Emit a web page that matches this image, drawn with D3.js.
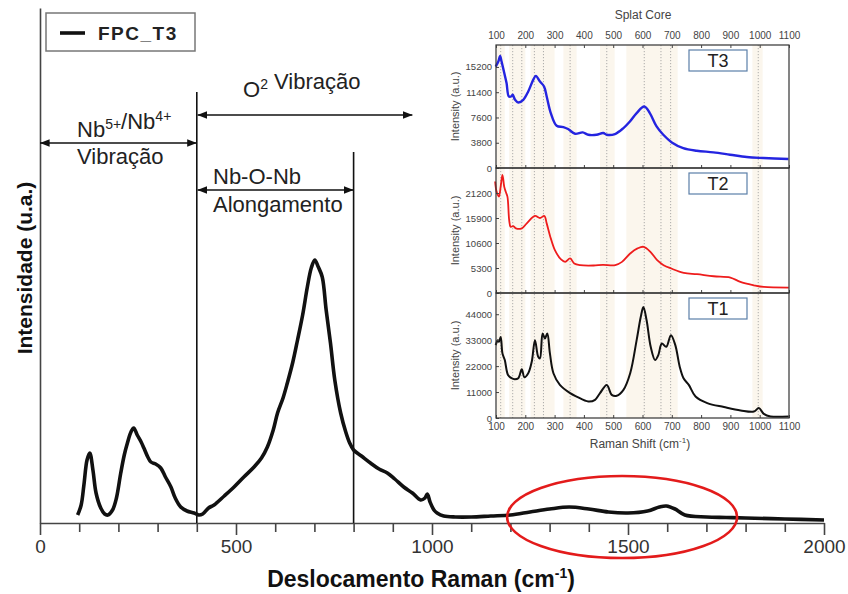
<!DOCTYPE html>
<html>
<head>
<meta charset="UTF-8">
<title>FPC_T3 Raman</title>
<script src="https://cdn.jsdelivr.net/npm/d3@7"></script>
<style>
body { margin: 0; background: #fff; }
text { font-family: "Liberation Sans", Arial, sans-serif; }
</style>
</head>
<body>
<script>
var W = 848, H = 594;

// main spectrum FPC_T3: [raman shift, intensity a.u.]
var mainSpectrum = [
  [96, 8], [105, 18], [112, 38], [120, 63], [127, 70], [135, 53], [143, 30], [155, 15],
  [165, 9], [173, 8], [185, 13], [195, 25], [206, 50], [215, 68], [223, 80], [232, 91],
  [239, 95], [248, 88], [258, 81], [265, 75], [275, 66], [283, 61], [295, 59], [308, 55],
  [320, 46], [334, 36], [345, 25], [359, 16], [375, 12], [393, 10], [405, 8], [415, 9],
  [430, 15], [444, 18], [470, 27], [495, 36], [520, 46], [546, 56], [565, 65], [580, 76],
  [595, 93], [606, 110], [620, 125], [631, 140], [645, 161], [657, 183], [670, 208],
  [682, 236], [692, 255], [701, 263], [710, 256], [720, 246], [730, 213], [741, 180],
  [752, 143], [767, 110], [780, 91], [790, 80], [800, 73], [820, 67], [843, 60],
  [865, 54], [886, 50], [905, 44], [928, 36], [950, 30], [971, 23], [982, 25], [988, 29],
  [995, 21], [1005, 13], [1013, 10], [1030, 7], [1060, 6], [1100, 6], [1150, 7],
  [1200, 8], [1250, 11], [1300, 14], [1350, 16], [1400, 14], [1450, 11], [1500, 10],
  [1550, 12], [1580, 16], [1598, 17], [1620, 14], [1645, 8], [1700, 6], [1750, 5.5],
  [1800, 5], [1900, 4], [2000, 3]
];
var mainTickLabels = [0, 500, 1000, 1500, 2000];

// inset "Splat Core" spectra
var t3Spectrum = [
  [99, 15260], [108, 16010], [114, 16870], [119, 16010], [127, 14510], [136, 12770],
  [144, 10750], [153, 10800], [157, 11010], [165, 10260], [176, 9850], [193, 10260],
  [210, 11510], [227, 13260], [236, 13860], [250, 13010], [264, 12260], [273, 10750],
  [287, 8260], [307, 6350], [330, 6160], [346, 5860], [370, 5150], [396, 5350],
  [415, 5000], [443, 5000], [466, 5260], [478, 5000], [506, 5110], [535, 6010],
  [557, 7000], [580, 8260], [606, 9250], [625, 8260], [648, 6250], [671, 5000],
  [700, 3850], [739, 3000], [785, 2600], [842, 2350], [899, 2000], [956, 1650],
  [1013, 1500], [1098, 1350]
];
var t2Spectrum = [
  [97, 23630], [102, 21500], [110, 20430], [116, 22560], [122, 25050], [128, 22560],
  [133, 21500], [139, 20430], [145, 15470], [150, 14050], [159, 14190], [168, 13700],
  [188, 13700], [205, 14760], [233, 16330], [250, 15900], [265, 16330], [273, 14760],
  [287, 11580], [301, 9090], [322, 7110], [336, 6600], [353, 7320], [367, 6260],
  [387, 5900], [433, 5830], [465, 5970], [507, 5900], [530, 6600], [558, 8380],
  [583, 9450], [604, 9790], [627, 8730], [650, 6960], [672, 5900], [698, 5190],
  [741, 4260], [786, 3980], [843, 3550], [900, 3280], [934, 2340], [980, 1640],
  [1014, 1280], [1099, 1150]
];
var t1Spectrum = [
  [99, 30890], [106, 33000], [110, 32300], [116, 34390], [122, 27390], [130, 24570],
  [141, 18250], [153, 16860], [164, 16440], [176, 16860], [188, 20650], [197, 17280],
  [210, 18960], [222, 23850], [233, 33000], [244, 25960], [250, 25260], [259, 35820],
  [267, 33700], [275, 35820], [284, 27390], [296, 18960], [318, 14040], [353, 10540],
  [375, 9100], [415, 7000], [438, 7700], [455, 10540], [478, 14040], [495, 9820],
  [512, 9400], [535, 11930], [558, 18960], [580, 33000], [594, 42820], [603, 47030],
  [614, 41430], [628, 30180], [643, 24570], [654, 26680], [666, 31610], [681, 30180],
  [697, 35110], [712, 30890], [727, 21760], [740, 16860], [758, 14040], [781, 9100],
  [821, 6320], [878, 4640], [935, 3200], [980, 2720], [997, 4210], [1014, 1760],
  [1037, 670], [1099, 670]
];
var t3Ticks = [0, 3800, 7600, 11400, 15200];
var t2Ticks = [0, 5300, 10600, 15900, 21200];
var t1Ticks = [0, 11000, 22000, 33000, 44000];
var insetTickLabels = [100, 200, 300, 400, 500, 600, 700, 800, 900, 1000, 1100];
var bandRanges = [[102, 130], [145, 200], [218, 300], [330, 375], [455, 505], [545, 720], [975, 1010]];
var peakLines = [116, 157, 188, 231, 262, 353, 478, 606, 663, 696, 995];

var svg = d3.select("body").append("svg")
  .attr("width", W).attr("height", H);
svg.append("rect").attr("width", W).attr("height", H).attr("fill", "#fff");

var defs = svg.append("defs");
defs.append("marker").attr("id", "ah")
  .attr("viewBox", "0 0 10 10").attr("refX", 10).attr("refY", 5)
  .attr("markerWidth", 6).attr("markerHeight", 6)
  .attr("orient", "auto-start-reverse")
  .append("path").attr("d", "M0,1 L10,5 L0,9 Z").attr("fill", "#111");

// ---------- main chart ----------
var x = d3.scaleLinear().domain([0, 2000]).range([40, 824]);
var y = d3.scaleLinear().domain([0, 515]).range([523, 8]);

var xAxis = d3.axisBottom(x)
  .tickValues(d3.range(0, 2001, 100))
  .tickSizeOuter(0)
  .tickPadding(6)
  .tickFormat(function(d){ return mainTickLabels.includes(d) ? d : ""; });
var gx = svg.append("g").attr("transform", "translate(0," + y(0) + ")").call(xAxis);
gx.select(".domain").attr("stroke", "#444").attr("stroke-width", 1.6);
gx.selectAll(".tick line")
  .attr("stroke", "#444").attr("stroke-width", 1.6)
  .attr("y2", function(d){ return d % 500 == 0 ? 12 : 9; });
gx.selectAll(".tick text")
  .attr("y", 17)
  .attr("font-size", 19).attr("fill", "#333")
  .attr("font-family", "'Liberation Sans', Arial, sans-serif");

var yAxis = d3.axisLeft(y).tickValues([]).tickSizeOuter(0);
var gy = svg.append("g").attr("transform", "translate(" + x(0) + ",0)").call(yAxis);
gy.select(".domain").attr("stroke", "#444").attr("stroke-width", 1.6);

// region lines
svg.append("line").attr("x1", x(400)).attr("x2", x(400))
  .attr("y1", 92).attr("y2", y(0)).attr("stroke", "#111").attr("stroke-width", 1.6);
svg.append("line").attr("x1", x(800)).attr("x2", x(800))
  .attr("y1", 152).attr("y2", y(0)).attr("stroke", "#111").attr("stroke-width", 1.6);

var line = d3.line()
  .x(function(d){ return x(d[0]); })
  .y(function(d){ return y(d[1]); })
  .curve(d3.curveCatmullRom.alpha(0.5));

svg.append("path").datum(mainSpectrum)
  .attr("d", line)
  .attr("fill", "none").attr("stroke", "#111")
  .attr("stroke-width", 3.6).attr("stroke-linejoin", "round");

// arrows
function arrow(xa, xb, yy){
  svg.append("line").attr("x1", x(xa)).attr("x2", x(xb))
    .attr("y1", yy).attr("y2", yy)
    .attr("stroke", "#111").attr("stroke-width", 1.6)
    .attr("marker-start", "url(#ah)").attr("marker-end", "url(#ah)");
}
arrow(0, 400, 143);
arrow(402, 950, 115);
arrow(402, 800, 190);

// parts: plain strings, or ["sup", text] for superscripts
function label(tx, ty, parts){
  var t = svg.append("text").attr("x", tx).attr("y", ty)
    .attr("font-size", 22).attr("fill", "#222");
  parts.forEach(function(p){
    if (typeof p !== "string") {
      t.append("tspan").attr("dy", -8).attr("font-size", 14).text(p[1]);
      t.append("tspan").attr("dy", 8).text("");
    } else {
      t.append("tspan").text(p);
    }
  });
  return t;
}
label(77, 137, ["Nb", ["sup", "5+"], "/Nb", ["sup", "4+"]]);
label(77, 164, ["Vibração"]);
label(243, 97, ["O", ["sup", "2"], " Vibração"]);
label(213, 184, ["Nb-O-Nb"]);
label(213, 212, ["Alongamento"]);

// ellipse highlight
svg.append("ellipse")
  .attr("cx", x(1485)).attr("cy", 517)
  .attr("rx", 115).attr("ry", 41)
  .attr("fill", "none").attr("stroke", "#e31b1b").attr("stroke-width", 2.6);

// legend
svg.append("rect").attr("x", 46).attr("y", 13).attr("width", 149).attr("height", 38)
  .attr("fill", "#fff").attr("stroke", "#777").attr("stroke-width", 1.5);
svg.append("line").attr("x1", 60).attr("x2", 85).attr("y1", 33).attr("y2", 33)
  .attr("stroke", "#111").attr("stroke-width", 3.6);
svg.append("text").attr("x", 98).attr("y", 40)
  .attr("font-size", 19).attr("font-weight", "bold").attr("letter-spacing", 1.5)
  .attr("fill", "#222").text("FPC_T3");

// axis titles
var xt = svg.append("text").attr("x", 421).attr("y", 587)
  .attr("text-anchor", "middle").attr("font-size", 23).attr("font-weight", "bold")
  .attr("fill", "#111");
xt.append("tspan").text("Deslocamento Raman (cm");
xt.append("tspan").attr("dy", -9).attr("font-size", 14).text("-1");
xt.append("tspan").attr("dy", 9).text(")");

svg.append("text")
  .attr("transform", "translate(32,268) rotate(-90)")
  .attr("text-anchor", "middle").attr("font-size", 21).attr("font-weight", "bold")
  .attr("fill", "#111").text("Intensidade (u.a.)");

// ---------- inset ----------
var xi = d3.scaleLinear().domain([100, 1100]).range([496, 789]);
var fmt = d3.format("d");
var panels = [
  {name: "T3", data: t3Spectrum, ticks: t3Ticks, max: 18500, top: 45, bottom: 168, color: "#2424e0", sw: 2.4},
  {name: "T2", data: t2Spectrum, ticks: t2Ticks, max: 26500, top: 168, bottom: 293, color: "#ee1c1c", sw: 1.8},
  {name: "T1", data: t1Spectrum, ticks: t1Ticks, max: 53000, top: 293, bottom: 418, color: "#111", sw: 2}
];
var inset = svg.append("g");
inset.append("rect").attr("x", xi(100)).attr("y", 45)
  .attr("width", xi(1100) - xi(100)).attr("height", 418 - 45).attr("fill", "#fff");

inset.selectAll(".band").data(bandRanges).enter().append("rect")
  .attr("x", function(d){ return xi(d[0]); })
  .attr("width", function(d){ return xi(d[1]) - xi(d[0]); })
  .attr("y", 45).attr("height", 418 - 45)
  .attr("fill", "#f8eedb").attr("opacity", 0.5);
inset.selectAll(".peak").data(peakLines).enter().append("line")
  .attr("x1", function(d){ return xi(d); }).attr("x2", function(d){ return xi(d); })
  .attr("y1", 45).attr("y2", 418)
  .attr("stroke", "#999").attr("stroke-width", 0.8).attr("stroke-dasharray", "1.2,1.8");

panels.forEach(function(p){
  var yi = d3.scaleLinear().domain([0, p.max]).range([p.bottom, p.top]);
  var li = d3.line()
    .x(function(d){ return xi(d[0]); })
    .y(function(d){ return yi(d[1]); })
    .curve(d3.curveCatmullRom.alpha(0.5));
  inset.append("path").datum(p.data).attr("d", li)
    .attr("fill", "none").attr("stroke", p.color).attr("stroke-width", p.sw)
    .attr("stroke-linejoin", "round");

  var ga = inset.append("g").attr("transform", "translate(" + xi(100) + ",0)")
    .call(d3.axisLeft(yi).tickValues(p.ticks).tickFormat(fmt)
      .tickSizeInner(-3).tickSizeOuter(0).tickPadding(4));
  ga.select(".domain").remove();
  ga.selectAll(".tick line").attr("stroke", "#444");
  ga.selectAll(".tick text").attr("font-size", 9.5).attr("fill", "#444")
    .attr("font-family", "'Liberation Sans', Arial, sans-serif");

  var gb = inset.append("g").attr("transform", "translate(0," + p.bottom + ")")
    .call(d3.axisBottom(xi).tickValues(insetTickLabels).tickSizeInner(-3)
      .tickSizeOuter(0).tickPadding(5)
      .tickFormat(p.name == "T1" ? fmt : function(){ return ""; }));
  gb.select(".domain").remove();
  gb.selectAll(".tick line").attr("stroke", "#444");
  gb.selectAll(".tick text").attr("font-size", 10).attr("fill", "#444")
    .attr("font-family", "'Liberation Sans', Arial, sans-serif");

  inset.append("rect").attr("x", xi(100)).attr("y", p.top)
    .attr("width", xi(1100) - xi(100)).attr("height", p.bottom - p.top)
    .attr("fill", "none").attr("stroke", "#333").attr("stroke-width", 1.2);

  inset.append("text")
    .attr("transform", "translate(459," + ((p.top + p.bottom) / 2) + ") rotate(-90)")
    .attr("text-anchor", "middle").attr("font-size", 11).attr("fill", "#444")
    .text("Intensity (a.u.)");

  inset.append("rect").attr("x", 689).attr("y", p.top + 5).attr("width", 58).attr("height", 21)
    .attr("fill", "#fff").attr("stroke", "#5b7fa8").attr("stroke-width", 1.2);
  inset.append("text").attr("x", 718).attr("y", p.top + 22)
    .attr("text-anchor", "middle").attr("font-size", 18).attr("fill", "#222").text(p.name);
});

var gt = inset.append("g").attr("transform", "translate(0,45)")
  .call(d3.axisTop(xi).tickValues(insetTickLabels).tickFormat(fmt)
    .tickSizeInner(-3).tickSizeOuter(0).tickPadding(6));
gt.select(".domain").remove();
gt.selectAll(".tick line").attr("stroke", "#444");
gt.selectAll(".tick text").attr("font-size", 10).attr("fill", "#444")
  .attr("font-family", "'Liberation Sans', Arial, sans-serif");

inset.append("text").attr("x", 643).attr("y", 19).attr("text-anchor", "middle")
  .attr("font-size", 12).attr("fill", "#444").text("Splat Core");
var rt = inset.append("text").attr("x", 640).attr("y", 448).attr("text-anchor", "middle")
  .attr("font-size", 12).attr("fill", "#444");
rt.append("tspan").text("Raman Shift (cm");
rt.append("tspan").attr("dy", -5).attr("font-size", 8).text("-1");
rt.append("tspan").attr("dy", 5).text(")");
</script>
</body>
</html>
